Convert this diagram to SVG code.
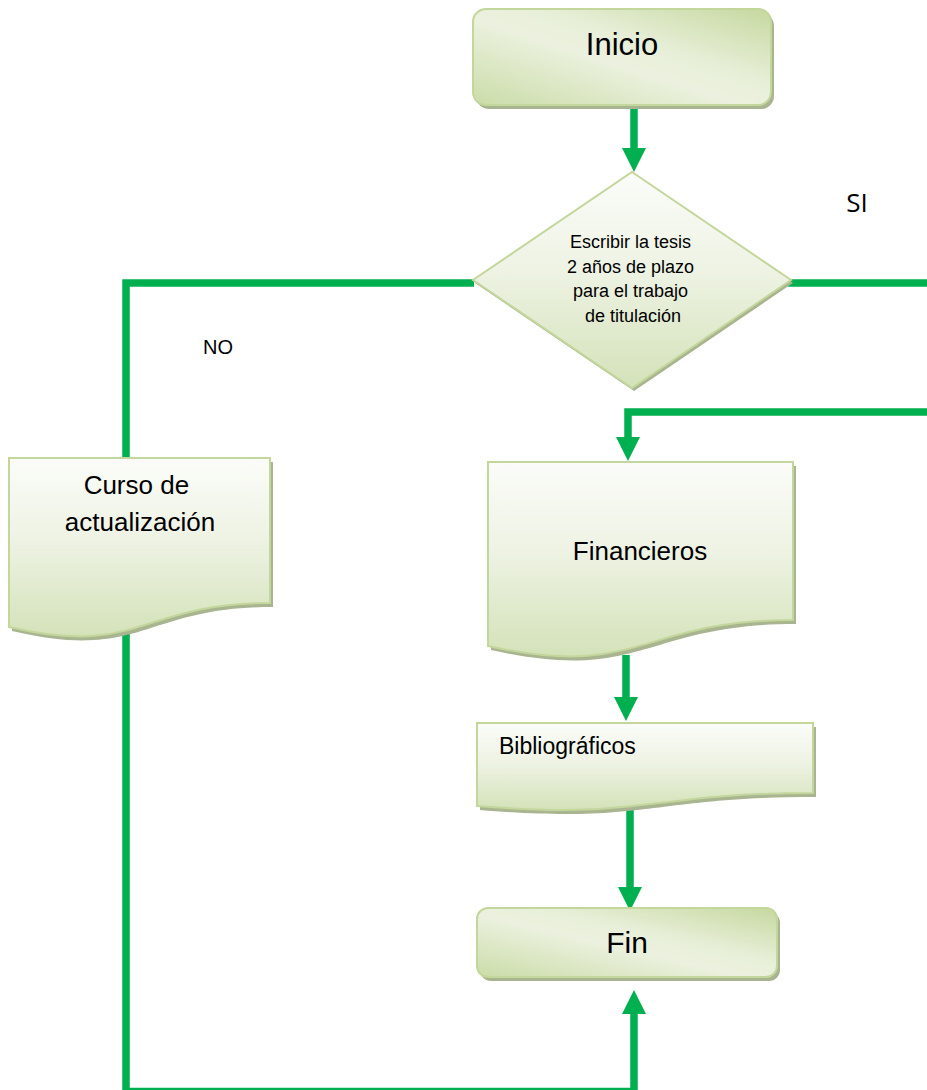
<svg xmlns="http://www.w3.org/2000/svg" width="927" height="1090" viewBox="0 0 927 1090">
  <defs>
    <!-- terminal boxes: diagonal band of light green -->
    <linearGradient id="gTerm" x1="0" y1="1" x2="1" y2="0">
      <stop offset="0" stop-color="#cbdca8"/>
      <stop offset="0.45" stop-color="#ebf1de"/>
      <stop offset="0.6" stop-color="#e8efd9"/>
      <stop offset="1" stop-color="#c6d89f"/>
    </linearGradient>
    <!-- documents and decision: white at top fading to green -->
    <linearGradient id="gDoc" x1="0" y1="0" x2="0" y2="1">
      <stop offset="0" stop-color="#fbfcf9"/>
      <stop offset="0.45" stop-color="#eef3e4"/>
      <stop offset="1" stop-color="#d4e2b9"/>
    </linearGradient>
    <marker id="arrow" markerUnits="userSpaceOnUse" viewBox="0 0 24 24" markerWidth="24" markerHeight="24" refX="1" refY="12" orient="auto">
      <path d="M0,0 L24,12 L0,24 Z" fill="#00b050"/>
    </marker>
    <style>
      .conn { fill: none; stroke: #00b050; stroke-width: 7.5; stroke-linejoin: miter; stroke-linecap: butt; }
      .shadow { fill: #a9b490; }
      .term { fill: url(#gTerm); stroke: #c3d69b; stroke-width: 2; }
      .doc { fill: url(#gDoc); stroke: #c3d69b; stroke-width: 2; }
      .lbl { font-family: "Liberation Sans", Arial, sans-serif; fill: #000; }
    </style>
  </defs>

  <rect width="927" height="1090" fill="#ffffff"/>

  <!-- connectors -->
  <g id="connectors">
    <path class="conn" d="M634,106 V149" marker-end="url(#arrow)"/>
    <path class="conn" d="M474,283 H126 V1091.5 H634 V1013" marker-end="url(#arrow)"/>
    <path class="conn" d="M788,283 H930"/>
    <path class="conn" d="M930,412 H628 V438" marker-end="url(#arrow)"/>
    <path class="conn" d="M626,655 V698" marker-end="url(#arrow)"/>
    <path class="conn" d="M630,809 V888" marker-end="url(#arrow)"/>
  </g>

  <!-- start -->
  <g id="inicio">
    <rect class="shadow" x="476" y="13" width="298" height="96" rx="13"/>
    <rect class="term" x="473" y="9" width="298" height="96" rx="13"/>
    <text class="lbl" x="622" y="55" font-size="31" text-anchor="middle">Inicio</text>
  </g>

  <!-- decision -->
  <g id="decision">
    <polygon class="shadow" points="634,175 793,283 634,391 475,283"/>
    <polygon class="doc" points="632,172 791,280 632,388 473,280"/>
    <text class="lbl" font-size="18" text-anchor="middle">
      <tspan x="633" y="248">Escribir la tesis</tspan>
      <tspan x="633" y="273">2 años de plazo</tspan>
      <tspan x="633" y="297">para el trabajo</tspan>
      <tspan x="633" y="322">de titulación</tspan>
    </text>
  </g>

  <!-- branch labels -->
  <g id="label-si">
    <text x="857" y="212" font-family="'Open Sans', 'Liberation Sans', sans-serif" font-size="26" text-anchor="middle">SI</text>
  </g>
  <g id="label-no">
    <text class="lbl" x="218" y="354" font-size="20" text-anchor="middle">NO</text>
  </g>

  <!-- document: Curso de actualización -->
  <g id="curso">
    <path class="shadow" transform="translate(3,4)" d="M9,458 H270 V603 C140,603 140,658 9,627 Z"/>
    <path class="doc" d="M9,458 H270 V603 C140,603 140,658 9,627 Z"/>
    <text class="lbl" font-size="26" text-anchor="middle">
      <tspan x="140" y="494">Curso de</tspan>
      <tspan x="140" y="531">actualización</tspan>
    </text>
  </g>

  <!-- document: Financieros -->
  <g id="financieros">
    <path class="shadow" transform="translate(3,4)" d="M488,462 H793 V620 C640,620 640,680 488,646 Z"/>
    <path class="doc" d="M488,462 H793 V620 C640,620 640,680 488,646 Z"/>
    <text class="lbl" x="640" y="560" font-size="26" text-anchor="middle">Financieros</text>
  </g>

  <!-- document: Bibliográficos -->
  <g id="bibliograficos">
    <path class="shadow" transform="translate(3,4)" d="M477,723 H813 V793 C645,793 645,820 477,806 Z"/>
    <path class="doc" d="M477,723 H813 V793 C645,793 645,820 477,806 Z"/>
    <text class="lbl" x="499" y="754" font-size="23">Bibliográficos</text>
  </g>

  <!-- end -->
  <g id="fin">
    <rect class="shadow" x="480" y="912" width="300" height="69" rx="11"/>
    <rect class="term" x="477" y="908" width="300" height="69" rx="11"/>
    <text class="lbl" x="627" y="953" font-size="30" text-anchor="middle">Fin</text>
  </g>
</svg>
